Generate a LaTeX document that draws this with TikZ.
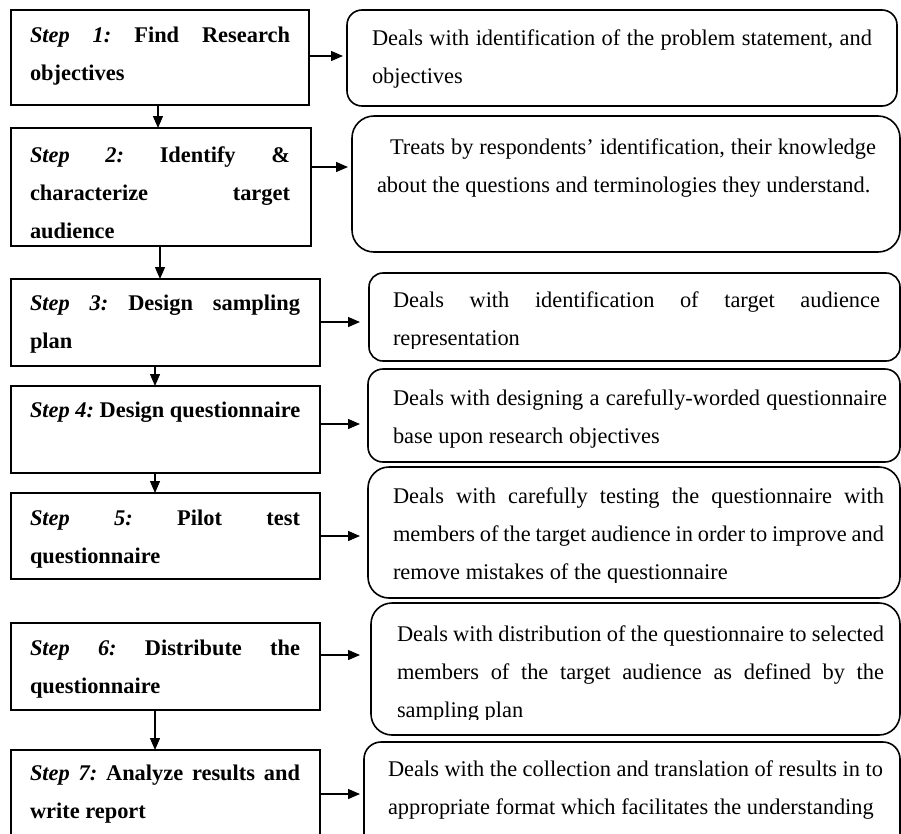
\documentclass[tikz,border=0pt]{standalone}
\usepackage{fontspec}
\setmainfont{Liberation Serif}
\usetikzlibrary{arrows.meta}
% a line stretched to a given width (justified), and a plain left-set line
\newcommand\justline[2]{\leavevmode{\spaceskip=0.25em plus 1fil minus 0.08em\relax\hbox to #1pt{#2}}}
\newcommand\plainline[2]{\leavevmode{\spaceskip=0.25em\relax\hbox to #1pt{#2\hss}}}
\begin{document}
\begin{tikzpicture}[x=1pt,y=-1pt,
  stepbox/.style={draw, line width=1.6pt, inner sep=0pt, outer sep=0pt},
  infobox/.style={draw, line width=1.6pt, inner sep=0pt, outer sep=0pt, rounded corners=#1},
  txt/.style={anchor=base west, inner sep=0pt, outer sep=0pt,
    font=\fontsize{22.4}{38.3}\selectfont\frenchspacing},
  steptxt/.style={txt, font=\fontsize{22.4}{38.3}\selectfont\frenchspacing\bfseries},
  arr/.style={line width=1.3pt, -{Triangle[length=12pt,width=10pt]}}
]
\useasboundingbox (0,0) rectangle (901,833);
\clip (0,0) rectangle (901,833);

% left step boxes
\node[stepbox, minimum width=298, minimum height=95]  (b1) at (160,57.5) {};
\node[stepbox, minimum width=300, minimum height=118] (b2) at (161,187) {};
\node[stepbox, minimum width=309, minimum height=87]  (b3) at (165.5,322.5) {};
\node[stepbox, minimum width=309, minimum height=87]  (b4) at (165.5,429.5) {};
\node[stepbox, minimum width=309, minimum height=86]  (b5) at (165.5,536) {};
\node[stepbox, minimum width=309, minimum height=87]  (b6) at (165.5,666.5) {};
\node[stepbox, minimum width=309, minimum height=110] (b7) at (165.5,805) {};

% right description boxes
\node[infobox=15pt, minimum width=550, minimum height=96]  (r1) at (622,58) {};
\node[infobox=22pt, minimum width=548, minimum height=136] (r2) at (626,184) {};
\node[infobox=14pt, minimum width=531, minimum height=88]  (r3) at (634.5,317) {};
\node[infobox=15pt, minimum width=532, minimum height=93]  (r4) at (634,415.5) {};
\node[infobox=21pt, minimum width=532, minimum height=131] (r5) at (634,532.5) {};
\node[infobox=21pt, minimum width=529, minimum height=132] (r6) at (635.5,669) {};
\node[infobox=17pt, minimum width=536, minimum height=118] (r7) at (632,801) {};

% step texts
\node[steptxt, text width=260] (t1) at (30,42)
  {\justline{260}{\textit{Step 1:} Find Research}\\\plainline{260}{objectives}};
\node[steptxt, text width=260] (t2) at (30,162)
  {\justline{260}{\textit{Step 2:} Identify \&}\\\justline{260}{characterize target}\\\plainline{260}{audience}};
\node[steptxt, text width=270] (t3) at (30,310)
  {\justline{270}{\textit{Step 3:} Design sampling}\\\plainline{270}{plan}};
\node[steptxt, text width=270] (t4) at (30,417)
  {\plainline{270}{\textit{Step 4:} Design questionnaire}};
\node[steptxt, text width=270] (t5) at (30,525)
  {\justline{270}{\textit{Step 5:} Pilot test}\\\plainline{270}{questionnaire}};
\node[steptxt, text width=270] (t6) at (30,655)
  {\justline{270}{\textit{Step 6:} Distribute the}\\\plainline{270}{questionnaire}};
\node[steptxt, text width=270] (t7) at (30,780)
  {\justline{270}{\textit{Step 7:} Analyze results and}\\\plainline{270}{write report}};

% description texts
\node[txt, text width=500] (d1) at (372,45)
  {\justline{500}{Deals with identification of the problem statement, and}\\\plainline{500}{objectives}};
\node[txt, text width=499] (d2) at (377,154)
  {\justline{499}{\hspace*{13pt}Treats by respondents’ identification, their knowledge}\\\plainline{499}{about the questions and terminologies they understand.}};
\begin{scope}
\clip (360,270) rectangle (905,348.3);
\node[txt, text width=487] (d3) at (393,307)
  {\justline{487}{Deals with identification of target audience}\\\plainline{487}{representation}};
\end{scope}
\node[txt, text width=494] (d4) at (393,405)
  {\justline{494}{Deals with designing a carefully-worded questionnaire}\\\plainline{494}{base upon research objectives}};
\begin{scope}
\clip (360,465) rectangle (905,582.5);
\node[txt, text width=491] (d5) at (393,503)
  {\justline{491}{Deals with carefully testing the questionnaire with}\\\justline{491}{members of the target audience in order to improve and}\\\plainline{491}{remove mistakes of the questionnaire}};
\end{scope}
\begin{scope}
\clip (360,600) rectangle (905,719.8);
\node[txt, text width=487] (d6) at (397,641)
  {\justline{487}{Deals with distribution of the questionnaire to selected}\\\justline{487}{members of the target audience as defined by the}\\\plainline{487}{sampling plan}};
\end{scope}
\node[txt, text width=495] (d7) at (388,776)
  {\justline{495}{Deals with the collection and translation of results in to}\\\plainline{495}{appropriate format which facilitates the understanding}};

% downward connectors
\draw[arr] (b1.south -| 158,0) -- (b2.north -| 158,0);
\draw[arr] (b2.south -| 160,0) -- (b3.north -| 160,0);
\draw[arr] (b3.south -| 155,0) -- (b4.north -| 155,0);
\draw[arr] (b4.south -| 155,0) -- (b5.north -| 155,0);
\draw[arr] (b6.south -| 155,0) -- (b7.north -| 155,0);

% horizontal connectors
\draw[arr, shorten >=4pt]  (b1.east |- 0,56)  -- (r1.west |- 0,56);
\draw[arr, shorten >=4pt]  (b2.east |- 0,167) -- (r2.west |- 0,167);
\draw[arr, shorten >=9pt]  (b3.east |- 0,322) -- (r3.west |- 0,322);
\draw[arr, shorten >=8pt]  (b4.east |- 0,424) -- (r4.west |- 0,424);
\draw[arr, shorten >=8pt]  (b5.east |- 0,536) -- (r5.west |- 0,536);
\draw[arr, shorten >=11pt] (b6.east |- 0,655) -- (r6.west |- 0,655);
\draw[arr, shorten >=4pt]  (b7.east |- 0,794) -- (r7.west |- 0,794);
\end{tikzpicture}
\end{document}
